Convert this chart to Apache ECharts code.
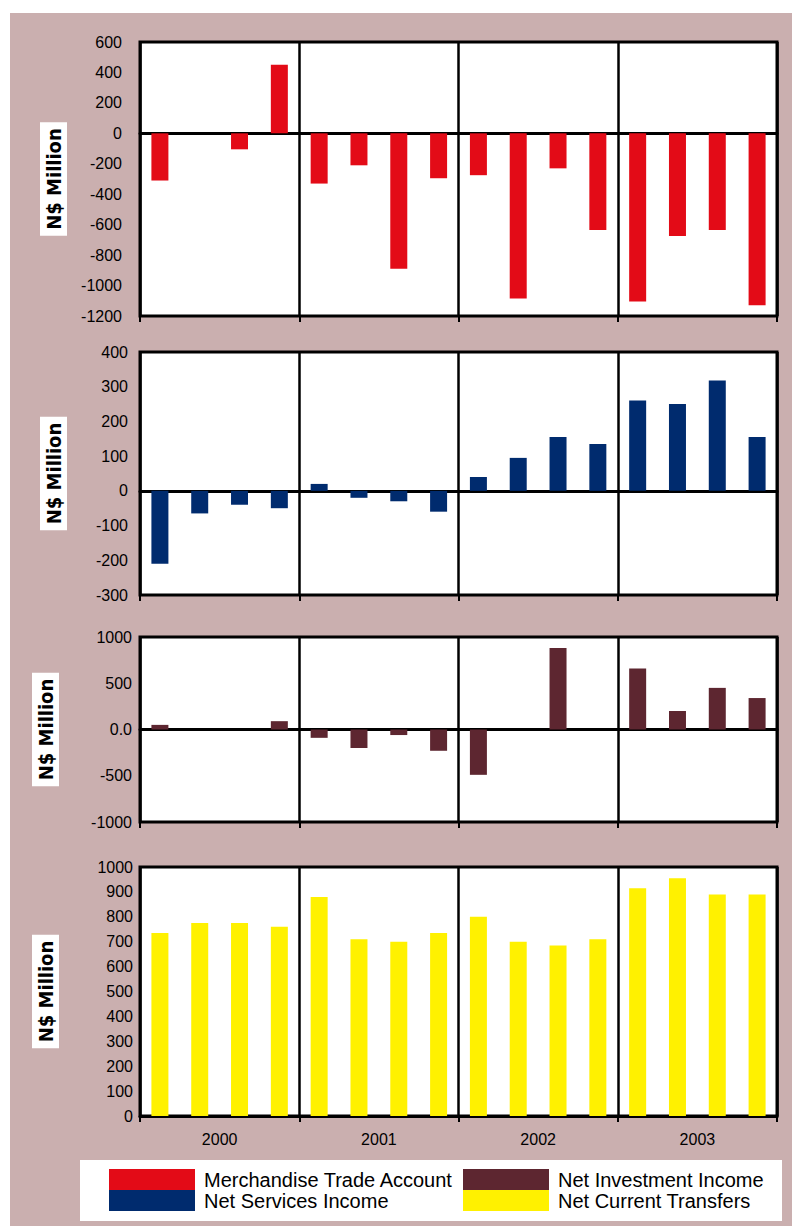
<!DOCTYPE html>
<html>
<head>
<meta charset="utf-8">
<script src="https://cdn.jsdelivr.net/npm/echarts@6/dist/echarts.min.js"></script>
<style>
  html, body { margin: 0; padding: 0; background: #ffffff; }
  #chart { position: absolute; left: 10px; top: 13px; width: 782px; height: 1213px; }
</style>
</head>
<body>
<div id="chart"></div>
<script>
// Quarterly balance-of-payments components, 2000-2003 (N$ million)
const years = ['2000', '2001', '2002', '2003'];
const quarters = [
  '2000 Q1', '2000 Q2', '2000 Q3', '2000 Q4',
  '2001 Q1', '2001 Q2', '2001 Q3', '2001 Q4',
  '2002 Q1', '2002 Q2', '2002 Q3', '2002 Q4',
  '2003 Q1', '2003 Q2', '2003 Q3', '2003 Q4'
];

const merchandiseTrade = [-310, 0, -105, 450, -330, -210, -890, -295, -275, -1085, -230, -635, -1105, -675, -635, -1130];
const netServices = [-210, -65, -40, -50, 20, -20, -30, -60, 40, 95, 155, 135, 260, 250, 318, 155];
const netInvestment = [50, 0, 0, 90, -90, -200, -60, -230, -490, 0, 880, 0, 660, 200, 450, 340];
const netTransfers = [735, 775, 775, 760, 880, 710, 700, 735, 800, 700, 685, 710, 915, 955, 890, 890];

const seriesNames = ['Merchandise Trade Account', 'Net Services Income', 'Net Investment Income', 'Net Current Transfers'];
const seriesColors = ['#E30B17', '#002B6E', '#5D2630', '#FFF100'];
const yAxisName = 'N$ Million';

// page offset of the chart container
const OX = 10, OY = 13;
const FONT = '"Liberation Sans", Arial, sans-serif';

// panel boxes in page coordinates
const panels = [
  { top: 42,  bottom: 316,  min: -1200, max: 600,  interval: 200, labelMargin: 18, nameGap: 73, data: merchandiseTrade },
  { top: 352, bottom: 595,  min: -300,  max: 400,  interval: 100, labelMargin: 12, nameGap: 73, data: netServices },
  { top: 637, bottom: 822,  min: -1000, max: 1000, interval: 500, labelMargin: 8,  nameGap: 81, data: netInvestment, zeroText: '0.0' },
  { top: 867, bottom: 1116, min: 0,     max: 1000, interval: 100, labelMargin: 7,  nameGap: 81, data: netTransfers }
];
const plotLeft = 140, plotRight = 777;

const grid = [], xAxis = [], yAxis = [], series = [];

panels.forEach((p, i) => {
  grid.push({
    left: plotLeft - OX,
    top: p.top - OY,
    width: plotRight - plotLeft,
    height: p.bottom - p.top,
    show: true,
    backgroundColor: '#ffffff',
    borderColor: '#000000',
    borderWidth: 3,
    containLabel: false
  });

  const isLast = i === panels.length - 1;
  // year axis: separators between years, year labels on the last panel
  xAxis.push({
    type: 'category',
    gridIndex: i,
    position: 'bottom',
    data: years,
    axisLine: { show: false, onZero: false },
    axisTick: { show: true, length: 6, lineStyle: { color: '#000', width: 2 } },
    axisLabel: { show: isLast, color: '#000', fontSize: 16, fontFamily: FONT, margin: 15 },
    splitLine: { show: true, lineStyle: { color: '#000', width: 2.5 } }
  });
  // quarter axis: carries the bars and the zero line
  xAxis.push({
    type: 'category',
    gridIndex: i,
    position: 'bottom',
    data: quarters,
    axisLine: { show: true, onZero: true, lineStyle: { color: '#000', width: 3 } },
    axisTick: { show: false },
    axisLabel: { show: false },
    splitLine: { show: false }
  });

  yAxis.push({
    type: 'value',
    gridIndex: i,
    min: p.min,
    max: p.max,
    interval: p.interval,
    axisLine: { show: false },
    axisTick: { show: false },
    splitLine: { show: false },
    axisLabel: {
      color: '#000',
      fontSize: 16,
      fontFamily: FONT,
      margin: p.labelMargin,
      formatter: v => (v === 0 && p.zeroText) ? p.zeroText : String(v)
    },
    name: yAxisName,
    nameLocation: 'middle',
    nameRotate: 90,
    nameGap: p.nameGap,
    nameTextStyle: {
      color: '#000',
      fontSize: 20,
      fontWeight: 'bold',
      fontFamily: '"DejaVu Sans Condensed", "Liberation Sans", sans-serif',
      backgroundColor: '#ffffff',
      padding: [4, 6, 3, 6]
    }
  });

  series.push({
    name: seriesNames[i],
    type: 'bar',
    xAxisIndex: 2 * i + 1,
    yAxisIndex: i,
    data: p.data,
    barWidth: 17,
    itemStyle: { color: seriesColors[i] },
    silent: true
  });
});

const legendText = { color: '#000', fontSize: 20, lineHeight: 21, fontFamily: FONT, padding: [0, 0, 0, 4] };

const option = {
  backgroundColor: '#CAAFAF',
  animation: false,
  grid, xAxis, yAxis, series,
  graphic: [{
    type: 'rect',
    z: -1,
    shape: { x: 80 - OX, y: 1160 - OY, width: 702, height: 61 },
    style: { fill: '#ffffff' }
  }],
  legend: [
    {
      data: [seriesNames[0], seriesNames[1]],
      orient: 'vertical',
      left: 109 - OX,
      top: 1169 - OY,
      icon: 'rect',
      itemWidth: 86,
      itemHeight: 21,
      itemGap: 0,
      padding: 0,
      selectedMode: false,
      textStyle: legendText
    },
    {
      data: [seriesNames[2], seriesNames[3]],
      orient: 'vertical',
      left: 463 - OX,
      top: 1169 - OY,
      icon: 'rect',
      itemWidth: 86,
      itemHeight: 21,
      itemGap: 0,
      padding: 0,
      selectedMode: false,
      textStyle: legendText
    }
  ]
};

const chart = echarts.init(document.getElementById('chart'), null, { renderer: 'svg' });
chart.setOption(option);
</script>
</body>
</html>
